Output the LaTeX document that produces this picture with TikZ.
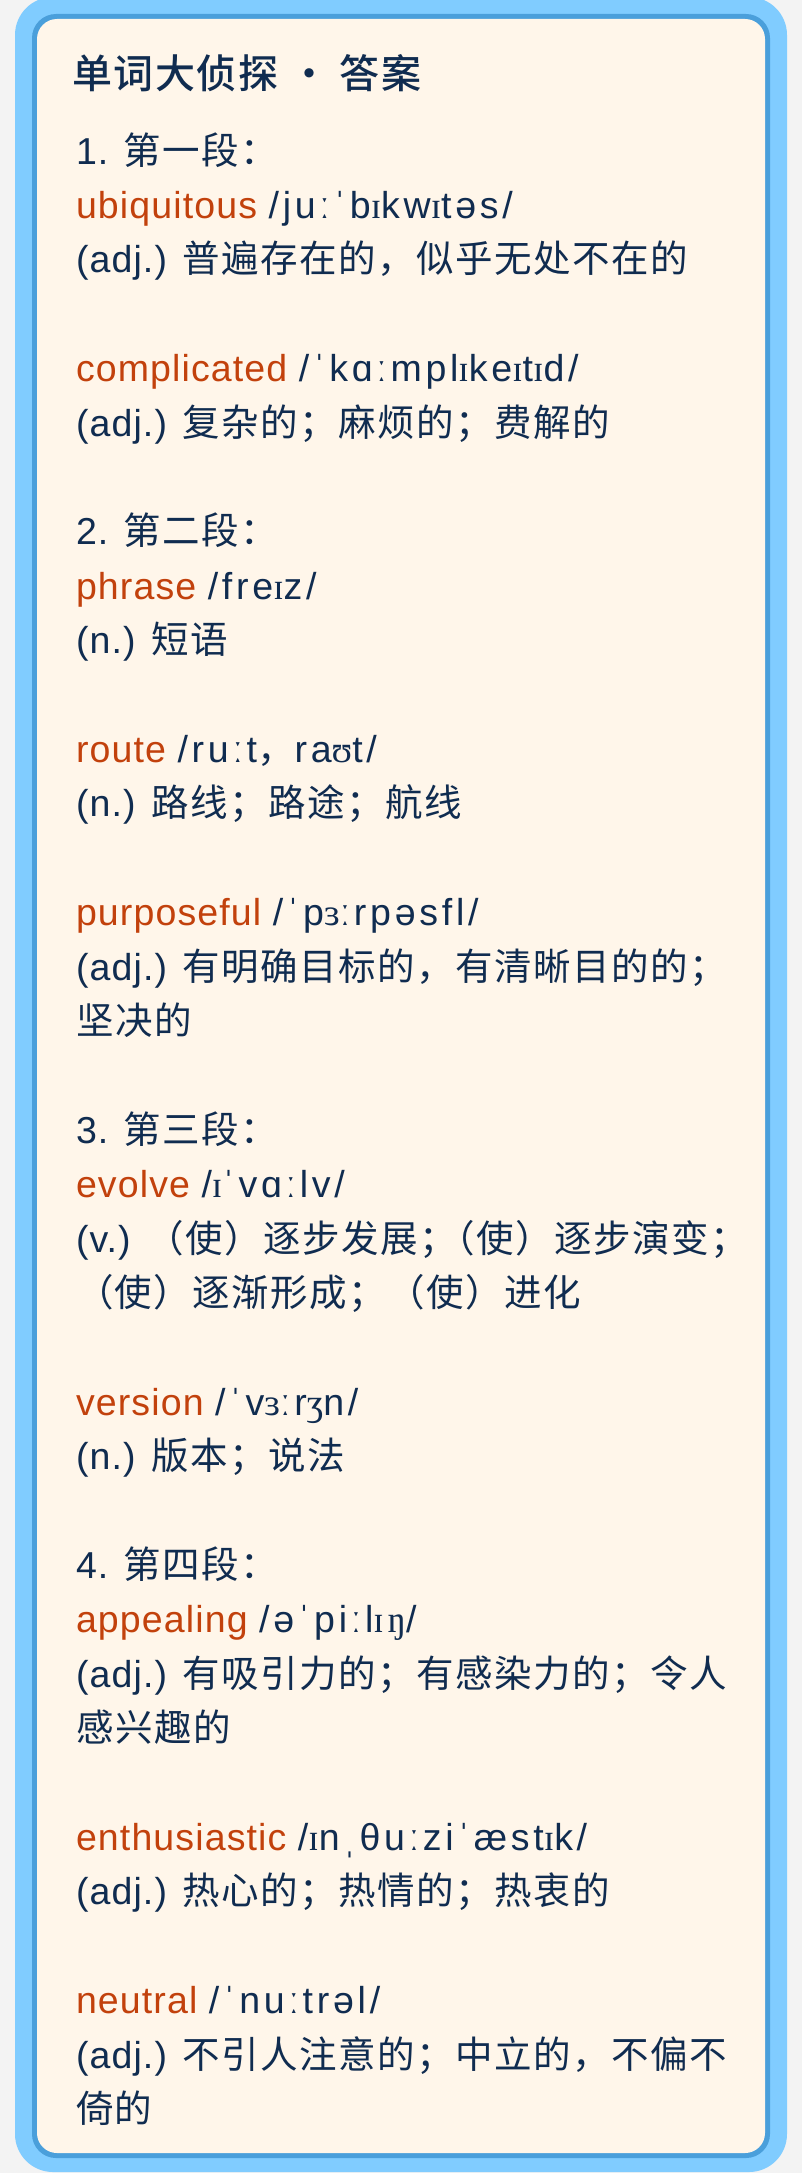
\documentclass[tikz,border=0pt]{standalone}
\usepackage{fontspec}
\setmainfont{Liberation Sans}[LetterSpace=3]
\newfontfamily\zhfont{Noto Sans CJK SC}[LetterSpace=4]
\newfontfamily\zhtitlefont{Noto Sans CJK SC Medium}[LetterSpace=4]
\newfontfamily\phonfont{Liberation Sans}[LetterSpace=10]
\newfontfamily\ipafont{Liberation Serif}[LetterSpace=10]
\usetikzlibrary{positioning}

\definecolor{pagegray}{HTML}{F3F3F3}
\definecolor{frameblue}{HTML}{80CCFF}
\definecolor{edgeblue}{HTML}{4A9FDB}
\definecolor{cardbeige}{HTML}{FFF6EA}
\definecolor{inknavy}{HTML}{102C50}
\definecolor{wordorange}{HTML}{C2410C}

\newcommand{\zh}[1]{{\zhfont #1}}
\newcommand{\ipa}[1]{{\ipafont #1}}
\newcommand{\phon}[1]{{\phonfont #1}}
\newcommand{\hw}[1]{\textcolor{wordorange}{#1}}
\newcommand{\linestrut}{\rule[-16pt]{0pt}{54.4pt}}

\begin{document}
\begin{tikzpicture}[x=1pt,y=-1pt,
  entry/.style={inner sep=0pt,outer sep=0pt,align=left,text=inknavy,
    font={\fontsize{37.5}{54.4}\selectfont}},
  node distance=54.4pt and 0pt]

% define the card
  \useasboundingbox (0,0) rectangle (802,2173);
  \fill[pagegray] (0,0) rectangle (802,2173);
  \fill[frameblue, rounded corners=38pt] (15,-3) rectangle (787,2172);
  \fill[edgeblue, rounded corners=24pt] (32,14) rectangle (770,2158);
  \fill[cardbeige, rounded corners=20pt] (37,19) rectangle (765,2153);

% define the title
  \node[anchor=base west, inner sep=0pt, text=inknavy,
        font={\fontsize{40}{48}\selectfont\zhtitlefont}] (title) at (72,89)
{单词大侦探 · 答案};

% define the entries
  \node[entry, anchor=north west] (ubiq) at (76,125.6)
{\linestrut 1. \zh{第一段：}\\
 \linestrut \hw{ubiquitous} \phon{/juːˈb\ipa{ɪ}kw\ipa{ɪ}təs/}\\
 \linestrut (adj.) \zh{普遍存在的，似乎无处不在的}};
  \node[entry, below right=of ubiq.south west] (compl)
{\linestrut \hw{complicated} \phon{/ˈkɑːmpl\ipa{ɪ}ke\ipa{ɪ}t\ipa{ɪ}d/}\\
 \linestrut (adj.) \zh{复杂的；麻烦的；费解的}};
  \node[entry, below right=of compl.south west] (phrase)
{\linestrut 2. \zh{第二段：}\\
 \linestrut \hw{phrase} \phon{/fre\ipa{ɪ}z/}\\
 \linestrut (n.) \zh{短语}};
  \node[entry, below right=of phrase.south west] (route)
{\linestrut \hw{route} \phon{/ruːt\zh{，}ra\ipa{ʊ}t/}\\
 \linestrut (n.) \zh{路线；路途；航线}};
  \node[entry, below right=of route.south west] (purp)
{\linestrut \hw{purposeful} \phon{/ˈp\ipa{ɜ}ːrpəsfl/}\\
 \linestrut (adj.) \zh{有明确目标的，有清晰目的的；}\\
 \linestrut \zh{坚决的}};
  \node[entry, below right=of purp.south west] (evolve)
{\linestrut 3. \zh{第三段：}\\
 \linestrut \hw{evolve} \phon{/\ipa{ɪ}ˈvɑːlv/}\\
 \linestrut (v.) \zh{（使）逐步发展；\kern-.5em（使）逐步演变；}\\
 \linestrut \zh{（使）逐渐形成；（使）进化}};
  \node[entry, below right=of evolve.south west] (version)
{\linestrut \hw{version} \phon{/ˈv\ipa{ɜ}ːr\ipa{ʒ}n/}\\
 \linestrut (n.) \zh{版本；说法}};
  \node[entry, below right=of version.south west] (appeal)
{\linestrut 4. \zh{第四段：}\\
 \linestrut \hw{appealing} \phon{/əˈpiːl\ipa{ɪŋ}/}\\
 \linestrut (adj.) \zh{有吸引力的；有感染力的；令人}\\
 \linestrut \zh{感兴趣的}};
  \node[entry, below right=of appeal.south west] (enthus)
{\linestrut \hw{enthusiastic} \phon{/\ipa{ɪ}nˌθuːziˈæst\ipa{ɪ}k/}\\
 \linestrut (adj.) \zh{热心的；热情的；热衷的}};
  \node[entry, below right=of enthus.south west] (neutral)
{\linestrut \hw{neutral} \phon{/ˈnuːtrəl/}\\
 \linestrut (adj.) \zh{不引人注意的；中立的，不偏不}\\
 \linestrut \zh{倚的}};

\end{tikzpicture}
\end{document}
